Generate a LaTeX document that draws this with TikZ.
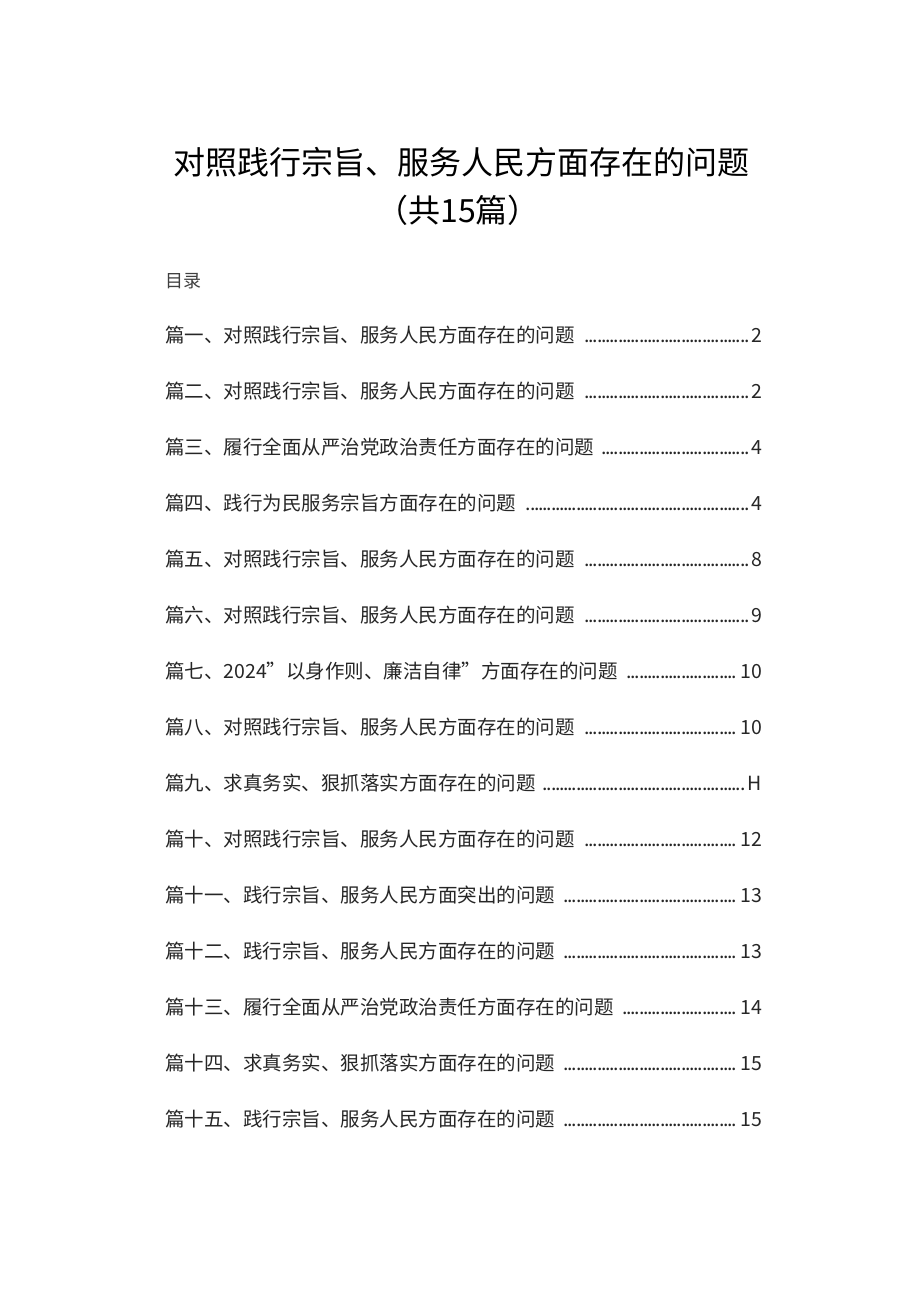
\documentclass[tikz,border=0pt]{standalone}
\usepackage{fontspec}
\setmainfont{Noto Sans CJK SC}
\begin{document}
\begin{tikzpicture}[x=1pt,y=1pt,
  entry/.style={anchor=west,inner sep=0pt,text width=597pt,font=\fontsize{19.5}{22}\selectfont,text=black!85}]
\useasboundingbox (0,0) rectangle (920,-1301);
\fill[white] (0,0) rectangle (920,-1301);
\node[font=\fontsize{32}{36}\selectfont] (t1) at (461,-162) {对照践行宗旨、服务人民方面存在的问题};
\node[font=\fontsize{32}{36}\selectfont] (t2) at (458,-210) {（共15篇）};
\node[anchor=west,inner sep=0pt,font=\fontsize{18}{20}\selectfont,text=black!75] (ml) at (165,-281) {目录};
\newcommand{\lead}{\leaders\hbox to 4.2pt{\hss.\hss}\hfill}
\foreach \i/\t/\p in {1/篇一、对照践行宗旨、服务人民方面存在的问题/2,
2/篇二、对照践行宗旨、服务人民方面存在的问题/2,
3/篇三、履行全面从严治党政治责任方面存在的问题/4,
4/篇四、践行为民服务宗旨方面存在的问题/4,
5/篇五、对照践行宗旨、服务人民方面存在的问题/8,
6/篇六、对照践行宗旨、服务人民方面存在的问题/9,
7/篇七、2024”以身作则、廉洁自律”方面存在的问题/10,
8/篇八、对照践行宗旨、服务人民方面存在的问题/10,
9/篇九、求真务实、狠抓落实方面存在的问题/H,
10/篇十、对照践行宗旨、服务人民方面存在的问题/12,
11/篇十一、践行宗旨、服务人民方面突出的问题/13,
12/篇十二、践行宗旨、服务人民方面存在的问题/13,
13/篇十三、履行全面从严治党政治责任方面存在的问题/14,
14/篇十四、求真务实、狠抓落实方面存在的问题/15,
15/篇十五、践行宗旨、服务人民方面存在的问题/15}
  \node[entry] (e\i) at (165,{-335-56*(\i-1)}) {\t\ \lead\p};
\end{tikzpicture}
\end{document}
